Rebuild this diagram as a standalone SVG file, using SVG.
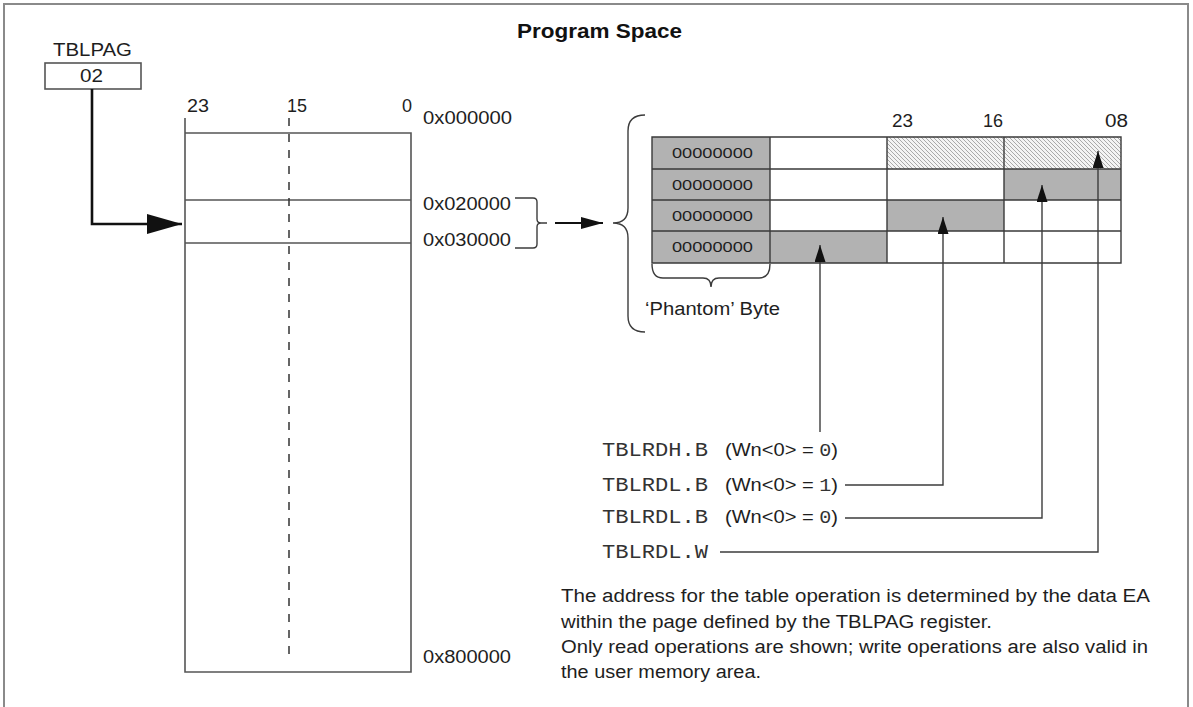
<svg xmlns="http://www.w3.org/2000/svg" width="1193" height="707" viewBox="0 0 1193 707">
<defs>
<style>
.s{font-family:"Liberation Sans",Arial,sans-serif;font-size:18px;fill:#1e1e1e}
.b{font-family:"Liberation Sans",Arial,sans-serif;font-size:20px;font-weight:bold;fill:#111}
.m{font-family:"Liberation Mono","Courier New",monospace;font-size:20px;fill:#333}
.mi{font-family:"Liberation Mono","Courier New",monospace;fill:#333}
.z{font-family:"Liberation Sans",Arial,sans-serif;font-size:15px;fill:#1e1e1e}
.ln{stroke:#3c3c3c;stroke-width:1.4;fill:none}
.mem{stroke:#555;stroke-width:1.6;fill:none}
.cell{stroke:#3a3a3a;stroke-width:1.4}
.g{fill:#b2b2b2}
.w{fill:#fff}
.h{fill:url(#hatch)}
</style>
<pattern id="hatch" patternUnits="userSpaceOnUse" width="4" height="4">
<rect width="4" height="4" fill="#f4f4f4"/>
<path d="M0,0 L4,4 M-1,3 L1,5 M3,-1 L5,1" stroke="#8a8a8a" stroke-width="0.7"/>
</pattern>
<marker id="up" markerUnits="userSpaceOnUse" markerWidth="18" markerHeight="12" refX="17" refY="5.5" orient="auto">
<path d="M0,0 L17,5.5 L0,11 z" fill="#111"/>
</marker>
<marker id="big" markerUnits="userSpaceOnUse" markerWidth="36" markerHeight="21" refX="35" refY="10" orient="auto">
<path d="M0,0 L35,10 L0,20 z" fill="#111"/>
</marker>
<marker id="mid" markerUnits="userSpaceOnUse" markerWidth="23" markerHeight="13" refX="22" refY="6" orient="auto">
<path d="M0,0 L22,6 L0,12 z" fill="#111"/>
</marker>
</defs>
<rect x="0" y="0" width="1193" height="707" fill="#fff"/>
<rect x="4" y="4" width="1184" height="720" fill="none" stroke="#8a8a8a" stroke-width="2"/>
<text class="b" x="517" y="38" textLength="165" lengthAdjust="spacingAndGlyphs">Program Space</text>

<g id="tblpag">
<text class="s" x="53" y="56" textLength="79" lengthAdjust="spacingAndGlyphs">TBLPAG</text>
<rect x="45" y="63" width="96" height="26" fill="#fff" stroke="#555" stroke-width="1.6"/>
<text class="s" x="80" y="82" textLength="23" lengthAdjust="spacingAndGlyphs">02</text>
</g>

<g id="program-memory">
<text class="s" x="187" y="112" textLength="22" lengthAdjust="spacingAndGlyphs">23</text>
<text class="s" x="287" y="112" textLength="20" lengthAdjust="spacingAndGlyphs">15</text>
<text class="s" x="402" y="112">0</text>
<path class="mem" d="M185,118 L185,672 L411,672 L411,133 L185,133 M185,200 L411,200 M185,243 L411,243"/>
<line x1="289" y1="118" x2="289" y2="658" stroke="#333" stroke-width="1.5" stroke-dasharray="8 8"/>
<text class="s" x="423" y="124" textLength="89" lengthAdjust="spacingAndGlyphs">0x000000</text>
<text class="s" x="423" y="210" textLength="88" lengthAdjust="spacingAndGlyphs">0x020000</text>
<text class="s" x="423" y="246" textLength="88" lengthAdjust="spacingAndGlyphs">0x030000</text>
<text class="s" x="423" y="663" textLength="88" lengthAdjust="spacingAndGlyphs">0x800000</text>
<path class="ln" d="M515,198 L533,198 Q537,198 537,202 L537,219 Q537,223 541,223 L547,223 M541,223 Q537,223 537,227 L537,244 Q537,248 533,248 L515,248"/>
</g>

<g id="data-table">
<path class="ln" d="M645,115 Q628,115 628,131 L628,208 Q628,223 613,223 Q628,223 628,238 L628,316 Q628,332 645,332"/>
<text class="s" x="892" y="127" textLength="21" lengthAdjust="spacingAndGlyphs">23</text>
<text class="s" x="983" y="127" textLength="20" lengthAdjust="spacingAndGlyphs">16</text>
<text class="s" x="1105" y="127" textLength="23" lengthAdjust="spacingAndGlyphs">08</text>
<rect class="g" x="652" y="137" width="118" height="126"/>
<rect class="w" x="770" y="137" width="351" height="126"/>
<rect class="h" x="887" y="137" width="234" height="32"/>
<rect class="g" x="1004" y="169" width="117" height="31"/>
<rect class="g" x="887" y="200" width="117" height="31"/>
<rect class="g" x="770" y="231" width="117" height="32"/>
<path class="cell" fill="none" d="M652,137 L1121,137 L1121,263 L652,263 Z M652,169 L1121,169 M652,200 L1121,200 M652,231 L1121,231 M770,137 L770,263 M887,137 L887,263 M1004,137 L1004,263"/>
<text class="z" x="672" y="158" textLength="81" lengthAdjust="spacingAndGlyphs">00000000</text>
<text class="z" x="672" y="190" textLength="81" lengthAdjust="spacingAndGlyphs">00000000</text>
<text class="z" x="672" y="221" textLength="81" lengthAdjust="spacingAndGlyphs">00000000</text>
<text class="z" x="672" y="252" textLength="81" lengthAdjust="spacingAndGlyphs">00000000</text>
<path class="ln" d="M652,264 Q652,278 663,278 L703,278 Q711,278 711,287 Q711,278 719,278 L759,278 Q770,278 770,264"/>
<text class="s" x="645" y="315" textLength="135" lengthAdjust="spacingAndGlyphs">‘Phantom’ Byte</text>
</g>

<g id="instructions">
<text class="m" x="602" y="456" textLength="106" lengthAdjust="spacingAndGlyphs">TBLRDH.B</text>
<text class="s" x="725" y="456" textLength="113" lengthAdjust="spacingAndGlyphs">(Wn&lt;0&gt; = <tspan class="mi">0</tspan>)</text>
<text class="m" x="602" y="491" textLength="106" lengthAdjust="spacingAndGlyphs">TBLRDL.B</text>
<text class="s" x="725" y="491" textLength="113" lengthAdjust="spacingAndGlyphs">(Wn&lt;0&gt; = <tspan class="mi">1</tspan>)</text>
<text class="m" x="602" y="523" textLength="106" lengthAdjust="spacingAndGlyphs">TBLRDL.B</text>
<text class="s" x="725" y="523" textLength="113" lengthAdjust="spacingAndGlyphs">(Wn&lt;0&gt; = <tspan class="mi">0</tspan>)</text>
<text class="m" x="602" y="558" textLength="106" lengthAdjust="spacingAndGlyphs">TBLRDL.W</text>
</g>

<g id="note">
<text class="s" x="561" y="602" textLength="589" lengthAdjust="spacingAndGlyphs">The address for the table operation is determined by the data EA</text>
<text class="s" x="561" y="628" textLength="431" lengthAdjust="spacingAndGlyphs">within the page defined by the TBLPAG register.</text>
<text class="s" x="561" y="653" textLength="587" lengthAdjust="spacingAndGlyphs">Only read operations are shown; write operations are also valid in</text>
<text class="s" x="561" y="678" textLength="200" lengthAdjust="spacingAndGlyphs">the user memory area.</text>
</g>

<g id="connectors">
<path d="M92,89 L92,224 L182,224" fill="none" stroke="#111" stroke-width="2.6" marker-end="url(#big)"/>
<path d="M555,223 L603,223" fill="none" stroke="#111" stroke-width="2" marker-end="url(#mid)"/>
<path class="ln" d="M820,432 L820,245" marker-end="url(#up)"/>
<path class="ln" d="M845,485 L943,485 L943,217" marker-end="url(#up)"/>
<path class="ln" d="M845,518 L1042,518 L1042,185" marker-end="url(#up)"/>
<path class="ln" d="M720,552 L1098,552 L1098,151" marker-end="url(#up)"/>
</g>
</svg>
